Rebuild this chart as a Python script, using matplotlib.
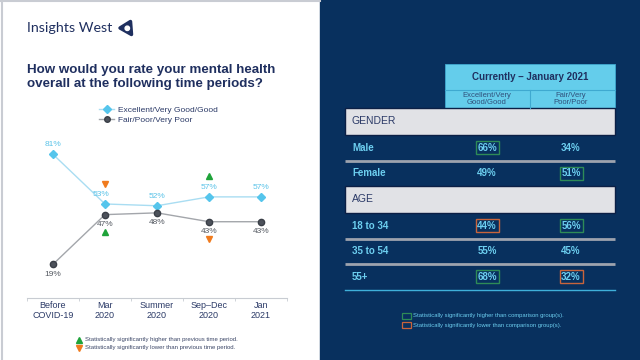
import matplotlib.pyplot as plt
from matplotlib.patches import Rectangle, Polygon, Circle
from matplotlib.lines import Line2D

plt.rcParams['font.family'] = ['Liberation Sans', 'DejaVu Sans']

NAVY = '#1F2F5F'
PANEL = '#08305E'
LIGHT_BLUE = '#6DCFF0'

# Line chart data ###################################################################################
periods = ['Before\nCOVID-19', 'Mar\n2020', 'Summer\n2020', 'Sep\u2013Dec\n2020', 'Jan\n2021']
good_trend = [81, 53, 52, 57, 57]
poor_trend = [19, 47, 48, 43, 43]
# significance markers vs previous period: (period index, 'up'/'down')
good_sig = [(1, 'down'), (3, 'up')]
poor_sig = [(1, 'up'), (3, 'down')]

# Table data ########################################################################################
table_title = 'Currently \u2013 January 2021'
col_heads = ['Excellent/Very\nGood/Good', 'Fair/Very\nPoor/Poor']
sections = ['GENDER', 'AGE']
section_rows = [['Male', 'Female'], ['18 to 34', '35 to 54', '55+']]
good_now = [66, 49, 44, 55, 68]
poor_now = [34, 51, 56, 45, 32]
good_now_sig = ['hi', None, 'lo', None, 'hi']
poor_now_sig = [None, 'hi', 'hi', None, 'lo']

fig = plt.figure(figsize=(6.4, 3.6), dpi=100)

# full-figure overlay in pixel coords
bg = fig.add_axes([0, 0, 1, 1])
bg.set_xlim(0, 640)
bg.set_ylim(360, 0)
bg.axis('off')

bg.add_patch(Rectangle((320, 0), 320, 360, color=PANEL, zorder=0))
bg.plot([0, 320], [1, 1], color='#C9CCD3', lw=1.5)
bg.plot([1.5, 1.5], [0, 360], color='#C9CCD3', lw=1.5)

# logo
bg.text(27, 28, 'Insights West', fontsize=10.3, color=NAVY, va='center', ha='left', family='Lato')
bg.add_patch(Polygon([(120, 28), (130.5, 21.5), (131.5, 34.5)], closed=True, facecolor=NAVY,
                     edgecolor=NAVY, joinstyle='round', lw=2.5))
bg.add_patch(Circle((127.3, 28.3), 2.2, color='white'))

bg.text(27, 77, 'How would you rate your mental health\noverall at the following time periods?',
        fontsize=9.6, fontweight='bold', color=NAVY, va='center', ha='left', linespacing=1.25)

# line chart ########################################################################################
px_per_pct = 1.774
ax = fig.add_axes([27 / 640, (360 - 298) / 360, 260 / 640, 158 / 360])
x = list(range(len(periods)))
ax.plot(x, good_trend, color='#A9DDF2', lw=1, marker='D', ms=4.5, mfc='#55C5EC', mec='#55C5EC', zorder=3)
ax.plot(x, poor_trend, color='#A3A6AB', lw=1, marker='o', ms=4.5, mfc='#4D525B', mec='#3A3F47', zorder=3)
ax.set_xlim(-0.5, len(periods) - 0.5)
ax.set_ylim(0, 158 / px_per_pct)

for i, v in enumerate(good_trend):
    dx = -0.08 if i == 1 else 0
    ax.text(i + dx, v + 3.5, f'{v}%', ha='center', va='bottom', fontsize=6, color='#5BC3E8')
for i, v in enumerate(poor_trend):
    ax.text(i, v - 3.5, f'{v}%', ha='center', va='top', fontsize=6, color='#555A62')

for i, d in good_sig:
    ax.plot(i, good_trend[i] + 11.5, marker='^' if d == 'up' else 'v', ms=4,
            color='#1FA33A' if d == 'up' else '#F07B1E', clip_on=False)
for i, d in poor_sig:
    ax.plot(i, poor_trend[i] - 9.8, marker='^' if d == 'up' else 'v', ms=4,
            color='#1FA33A' if d == 'up' else '#F07B1E', clip_on=False)

for s in ['top', 'right', 'left']:
    ax.spines[s].set_visible(False)
ax.spines['bottom'].set_color('#C8CCD2')
ax.set_yticks([])
ax.set_xticks(x)
ax.set_xticklabels(periods, fontsize=6.5, color='#2B3A67', linespacing=1.15)
ax.tick_params(axis='x', which='major', length=0, pad=2)
ax.set_xticks([i - 0.5 for i in range(len(periods) + 1)], minor=True)
ax.tick_params(axis='x', which='minor', length=2, color='#C8CCD2')

handles = [Line2D([], [], color='#A9DDF2', lw=1, marker='D', ms=4, mfc='#55C5EC', mec='#55C5EC'),
           Line2D([], [], color='#A3A6AB', lw=1, marker='o', ms=4, mfc='#4D525B', mec='#3A3F47')]
fig.legend(handles, ['Excellent/Very Good/Good', 'Fair/Poor/Very Poor'], loc='upper left',
           bbox_to_anchor=(95 / 640, 1 - 102 / 360), frameon=False, fontsize=6, handlelength=1.8,
           handletextpad=0.5, labelspacing=0.25, labelcolor='#2B3A67', borderpad=0)

bg.plot(79, 340, marker='^', ms=4, color='#1FA33A')
bg.plot(79, 348, marker='v', ms=4, color='#F07B1E')
bg.text(85, 340, 'Statistically significantly higher than previous time period.', fontsize=4.3,
        color='#3A4566', va='center')
bg.text(85, 348, 'Statistically significantly lower than previous time period.', fontsize=4.3,
        color='#3A4566', va='center')

# table #############################################################################################
left, right = 345, 615
col_x = [487, 571]
bg.add_patch(Rectangle((445, 64), 170, 44, facecolor='#64CDEB', edgecolor='#3FA9D0', lw=0.6))
bg.plot([445, 615], [90, 90], color='#3FA9D0', lw=0.8)
bg.plot([530, 530], [90, 108], color='#3FA9D0', lw=0.8)
bg.text(530, 77, table_title, ha='center', va='center', fontsize=7, fontweight='bold', color=NAVY)
for cx, head in zip(col_x, col_heads):
    bg.text(cx, 99, head, ha='center', va='center', fontsize=5.5, color='#2F4F7A', linespacing=1.15)

sig_colors = {'hi': '#2E8B57', 'lo': '#C8643C'}
sec_h, row_h = 27, 25.5
y = 108
k = 0
for sec, rows in zip(sections, section_rows):
    bg.add_patch(Rectangle((left, y), right - left, sec_h, facecolor='#E1E2E6', edgecolor='#0B1F45', lw=1))
    bg.text(left + 7, y + sec_h / 2, sec, fontsize=7.5, color='#2B3A67', va='center')
    y += sec_h
    for j, name in enumerate(rows):
        cy = y + row_h / 2
        bg.text(left + 7, cy, name, fontsize=7, fontweight='bold', color=LIGHT_BLUE, va='center')
        for cx, val, sig in zip(col_x, [good_now[k], poor_now[k]], [good_now_sig[k], poor_now_sig[k]]):
            bg.text(cx, cy, f'{val}%', fontsize=7, fontweight='bold', color=LIGHT_BLUE, ha='center', va='center')
            if sig:
                bg.add_patch(Rectangle((cx - 11.5, cy - 6.5), 23, 13, fill=False, edgecolor=sig_colors[sig], lw=1))
        y += row_h
        k += 1
        if j < len(rows) - 1:
            bg.plot([left, right], [y, y], color='#9EA3AE', lw=2, solid_capstyle='butt')
bg.plot([left, right], [y, y], color='#3FB0DA', lw=1)

bg.add_patch(Rectangle((402, 313), 9, 5.5, fill=False, edgecolor=sig_colors['hi'], lw=0.9))
bg.add_patch(Rectangle((402, 322), 9, 5.5, fill=False, edgecolor=sig_colors['lo'], lw=0.9))
bg.text(413, 316, 'Statistically significantly higher than comparison group(s).', fontsize=4.2,
        color=LIGHT_BLUE, va='center')
bg.text(413, 325, 'Statistically significantly lower than comparison group(s).', fontsize=4.2,
        color=LIGHT_BLUE, va='center')

fig.savefig('out.png', dpi=100)
